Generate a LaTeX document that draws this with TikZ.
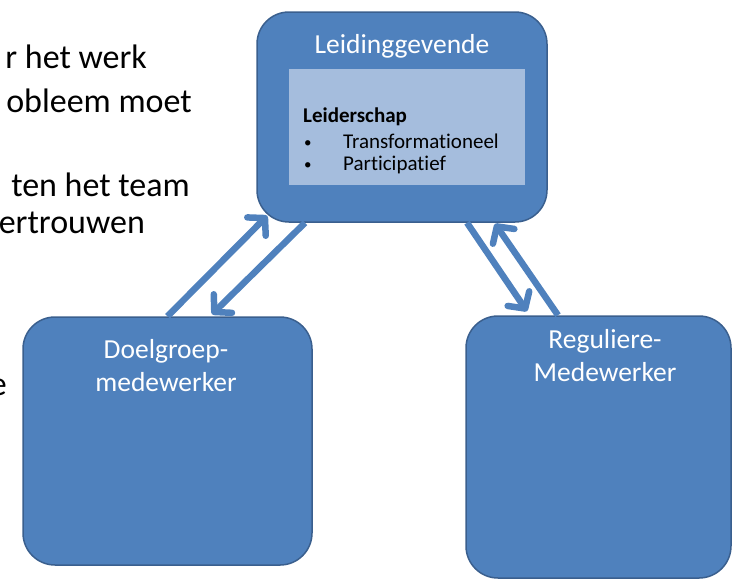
\documentclass[tikz,border=0pt]{standalone}
\usepackage{fontspec}
\setmainfont{Carlito}[Ligatures = NoCommon]
\usetikzlibrary{arrows.meta, calc}
\definecolor{vlak}{HTML}{4F81BD}
\definecolor{rand}{HTML}{3A5F8E}
\definecolor{licht}{HTML}{A5BDDD}
\tikzset{blok/.style = {draw = rand, line width = 1.5pt, fill = vlak, rounded corners = 32pt, inner sep = 0pt}}
\tikzset{pijl/.style = {draw = vlak, line width = 6.5pt, -{Straight Barb[length = 12pt, width = 26pt, round]}}}
\tikzset{kop/.style = {text = white, font = \fontsize{27.5}{33}\selectfont, align = center, inner sep = 0pt}}
\tikzset{regel/.style = {font = \fontsize{34}{40}\selectfont, inner sep = 0pt, anchor = base east}}
\tikzset{lijst/.style = {font = \fontsize{21}{24}\selectfont, inner sep = 0pt, anchor = base west}}

\begin{document}
    \begin{tikzpicture}[x = 1pt, y = -1pt]
        \useasboundingbox (0,0) rectangle (733,579);
        % tekst links, valt deels buiten de rand
        \node[regel] (r1) at (147,68) {r het werk};
        \node[regel] (r2) at (192,112) {obleem moet};
        \node[regel] (r3) at (190,196) {ten het team};
        \node[regel] (r4) at (145,233) {ertrouwen};
        \node[regel] (r5) at (7,395) {e};
        % de drie blokken
        \node[blok, minimum width = 290pt, minimum height = 210pt] (leider) at (402,117) {};
        \node[fill = licht, minimum width = 236pt, minimum height = 116pt, inner sep = 0pt] (stijl) at (407,127) {};
        \node[blok, minimum width = 289pt, minimum height = 248pt] (doel) at (167.5,441) {};
        \node[blok, minimum width = 265pt, minimum height = 262pt] (regulier) at (598.5,447) {};
        \node[kop, anchor = base] (leidertitel) at (402,53) {Leidinggevende};
        \node[kop, anchor = north] (doeltitel) at (166,339) {Doelgroep-\\medewerker};
        \node[kop, anchor = north] (regtitel) at (605,329) {Reguliere-\\Medewerker};
        % stijlen van leiderschap
        \node[lijst] (lkop) at (303,122) {\textbf{Leiderschap}};
        \node[lijst, font = \fontsize{15}{18}\selectfont] (b1) at (304,147) {•};
        \node[lijst] (trans) at (343,148) {Transformationeel};
        \node[lijst, font = \fontsize{15}{18}\selectfont] (b2) at (304,169) {•};
        \node[lijst] (part) at (343,170) {Participatief};
        % pijlen heen en terug
        \draw[pijl] (doel.north) -- ([shift = {(11,-7)}]leider.south west);
        \draw[pijl] ([xshift = -97pt]leider.south) -- ([shift = {(44.5,-2)}]doel.north);
        \draw[pijl] ([xshift = 65pt]leider.south) -- ([shift = {(-71.5,-4)}]regulier.north);
        \draw[pijl] ([xshift = -40.5pt]regulier.north) -- ([shift = {(93,1)}]leider.south);
    \end{tikzpicture}
\end{document}
